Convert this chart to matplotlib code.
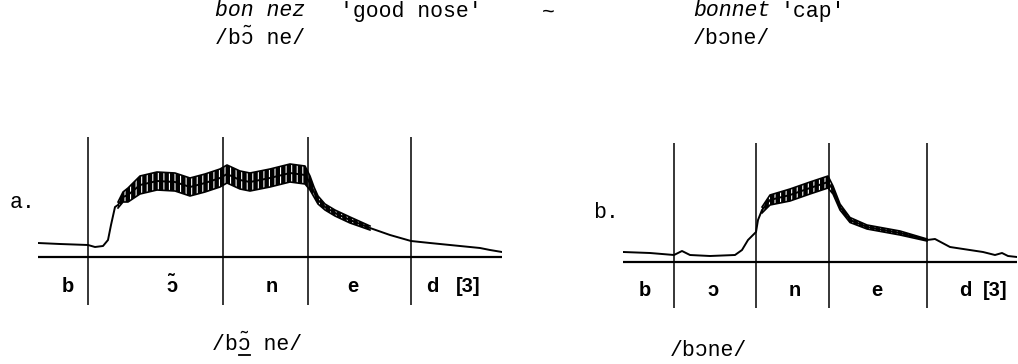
import numpy as np
import matplotlib
matplotlib.use("Agg")
import matplotlib.pyplot as plt
from matplotlib.lines import Line2D

# panel a: bon nez /bɔ̃ ne/  (time in ms-ish units, nasal flow in arbitrary units)
a_time = [0, 22, 50, 57, 65, 70, 73, 77, 80, 85, 90, 102, 119, 137, 152, 167, 182, 189,
          202, 212, 232, 252, 267, 272, 276, 280, 287, 297, 312, 332, 352, 373, 392, 422,
          442, 452, 464]
a_flow = [14, 13, 12, 10, 11, 17, 32, 50, 52, 60, 62, 72, 76, 75, 70, 74, 79, 83,
          77, 75, 79, 84, 82, 74, 65, 57, 50, 44, 37, 29, 22, 16, 14, 11,
          9, 7, 5]
a_ripple = [0, 0, 0, 0, 0, 0, 0, 0, 3, 5, 7, 9, 9, 9, 9, 9, 9, 9,
            9, 9, 9, 9, 9, 7, 5, 4, 3, 3, 3, 2, 0, 0, 0, 0,
            0, 0, 0]
a_bounds = [50, 185, 270, 373]
a_segments = ["b", "ɔ\u0303", "n", "e", "d", "[3]"]

# panel b: bonnet /bɔne/
b_time = [0, 27, 51, 59, 67, 87, 112, 119, 125, 129, 133, 135, 139, 147, 167, 187, 205,
          210, 217, 227, 244, 277, 304, 312, 327, 360, 372, 379, 385, 394]
b_flow = [10, 9, 7, 11, 7, 6, 7, 12, 22, 26, 30, 42, 52, 62, 67, 74, 80,
          72, 55, 42, 35, 29, 22, 23, 15, 10, 7, 9, 6, 5]
b_ripple = [0, 0, 0, 0, 0, 0, 0, 0, 0, 0, 0, 0, 3, 5, 6, 6, 6,
            4, 3, 2.5, 2, 2, 1, 0, 0, 0, 0, 0, 0, 0]
b_bounds = [51, 133, 206, 304]
b_segments = ["b", "ɔ", "n", "e", "d", "[3]"]

W, H = 1018, 364
mono = ["Liberation Mono", "DejaVu Sans Mono"]
sans = ["Liberation Sans", "DejaVu Sans"]
FS = 15.5
CW = 0.6 * FS * 100 / 72  # width of one monospace character in pixels


def box(left, top, right, bottom):
    return [left / W, 1 - bottom / H, (right - left) / W, (bottom - top) / H]


def panel(ax, t, f, rip, bounds, segs, seg_x, seg_y, xlim, ylim):
    t = np.array(t, float)
    f = np.array(f, float)
    rip = np.array(rip, float)
    ax.set_xlim(*xlim)
    ax.set_ylim(*ylim)
    ax.axis("off")
    ax.axhline(0, color="black", lw=1.6)
    for b in bounds:
        ax.axvline(b, color="black", lw=1.1)
    # voicing ripple: dark band round the mean flow, thin light stripes for the cycles
    on = rip > 0
    ax.fill_between(t, f - rip, f + rip, where=on,
                    facecolor="black", edgecolor="white", hatch="|||", lw=0)
    ax.plot(t[on], (f + rip)[on], color="black", lw=1.2)
    ax.plot(t[on], (f - rip)[on], color="black", lw=1.2)
    ax.plot(t, f, color="black", lw=1.4)
    for s, x in zip(segs, seg_x):
        ax.text(x, seg_y, s, ha="center", va="center", fontsize=14.5,
                fontweight="bold", family=sans)


fig = plt.figure(figsize=(W / 100, H / 100), dpi=100)
plt.rcParams["hatch.linewidth"] = 0.8

ax_a = fig.add_axes(box(38, 137, 502, 305))
panel(ax_a, a_time, a_flow, a_ripple, a_bounds, a_segments,
      [30, 134, 234, 315, 394, 430], -30, (0, 464), (-48, 120))

ax_b = fig.add_axes(box(623, 143, 1017, 308))
panel(ax_b, b_time, b_flow, b_ripple, b_bounds, b_segments,
      [22, 90, 172, 254, 342, 372], -28, (0, 394), (-46, 119))


def txt(px, py, s, **kw):
    fig.text(px / W, 1 - py / H, s, va="center", ha="left", fontsize=FS,
             family=mono, **kw)


txt(215, 11, "bon nez", style="italic")
txt(340, 11, "'good nose'")
txt(542, 12, "~")
txt(693, 11, "bonnet", style="italic")
txt(780, 11, "'cap'")
txt(215, 38, "/bɔ\u0303 ne/")
txt(693, 38, "/bɔne/")
txt(10, 203, "a.")
txt(593, 213, "b.")
txt(212, 345, "/bɔ\u0303 ne/")
# underline beneath the nasal vowel of the lower transcription
ux = 212 + 2 * CW
fig.add_artist(Line2D([(ux + 1) / W, (ux + CW - 1) / W], [1 - 355 / H, 1 - 355 / H],
                      color="black", lw=1.3))
txt(670, 350, "/bɔne/")

fig.savefig("out.png", dpi=100)
